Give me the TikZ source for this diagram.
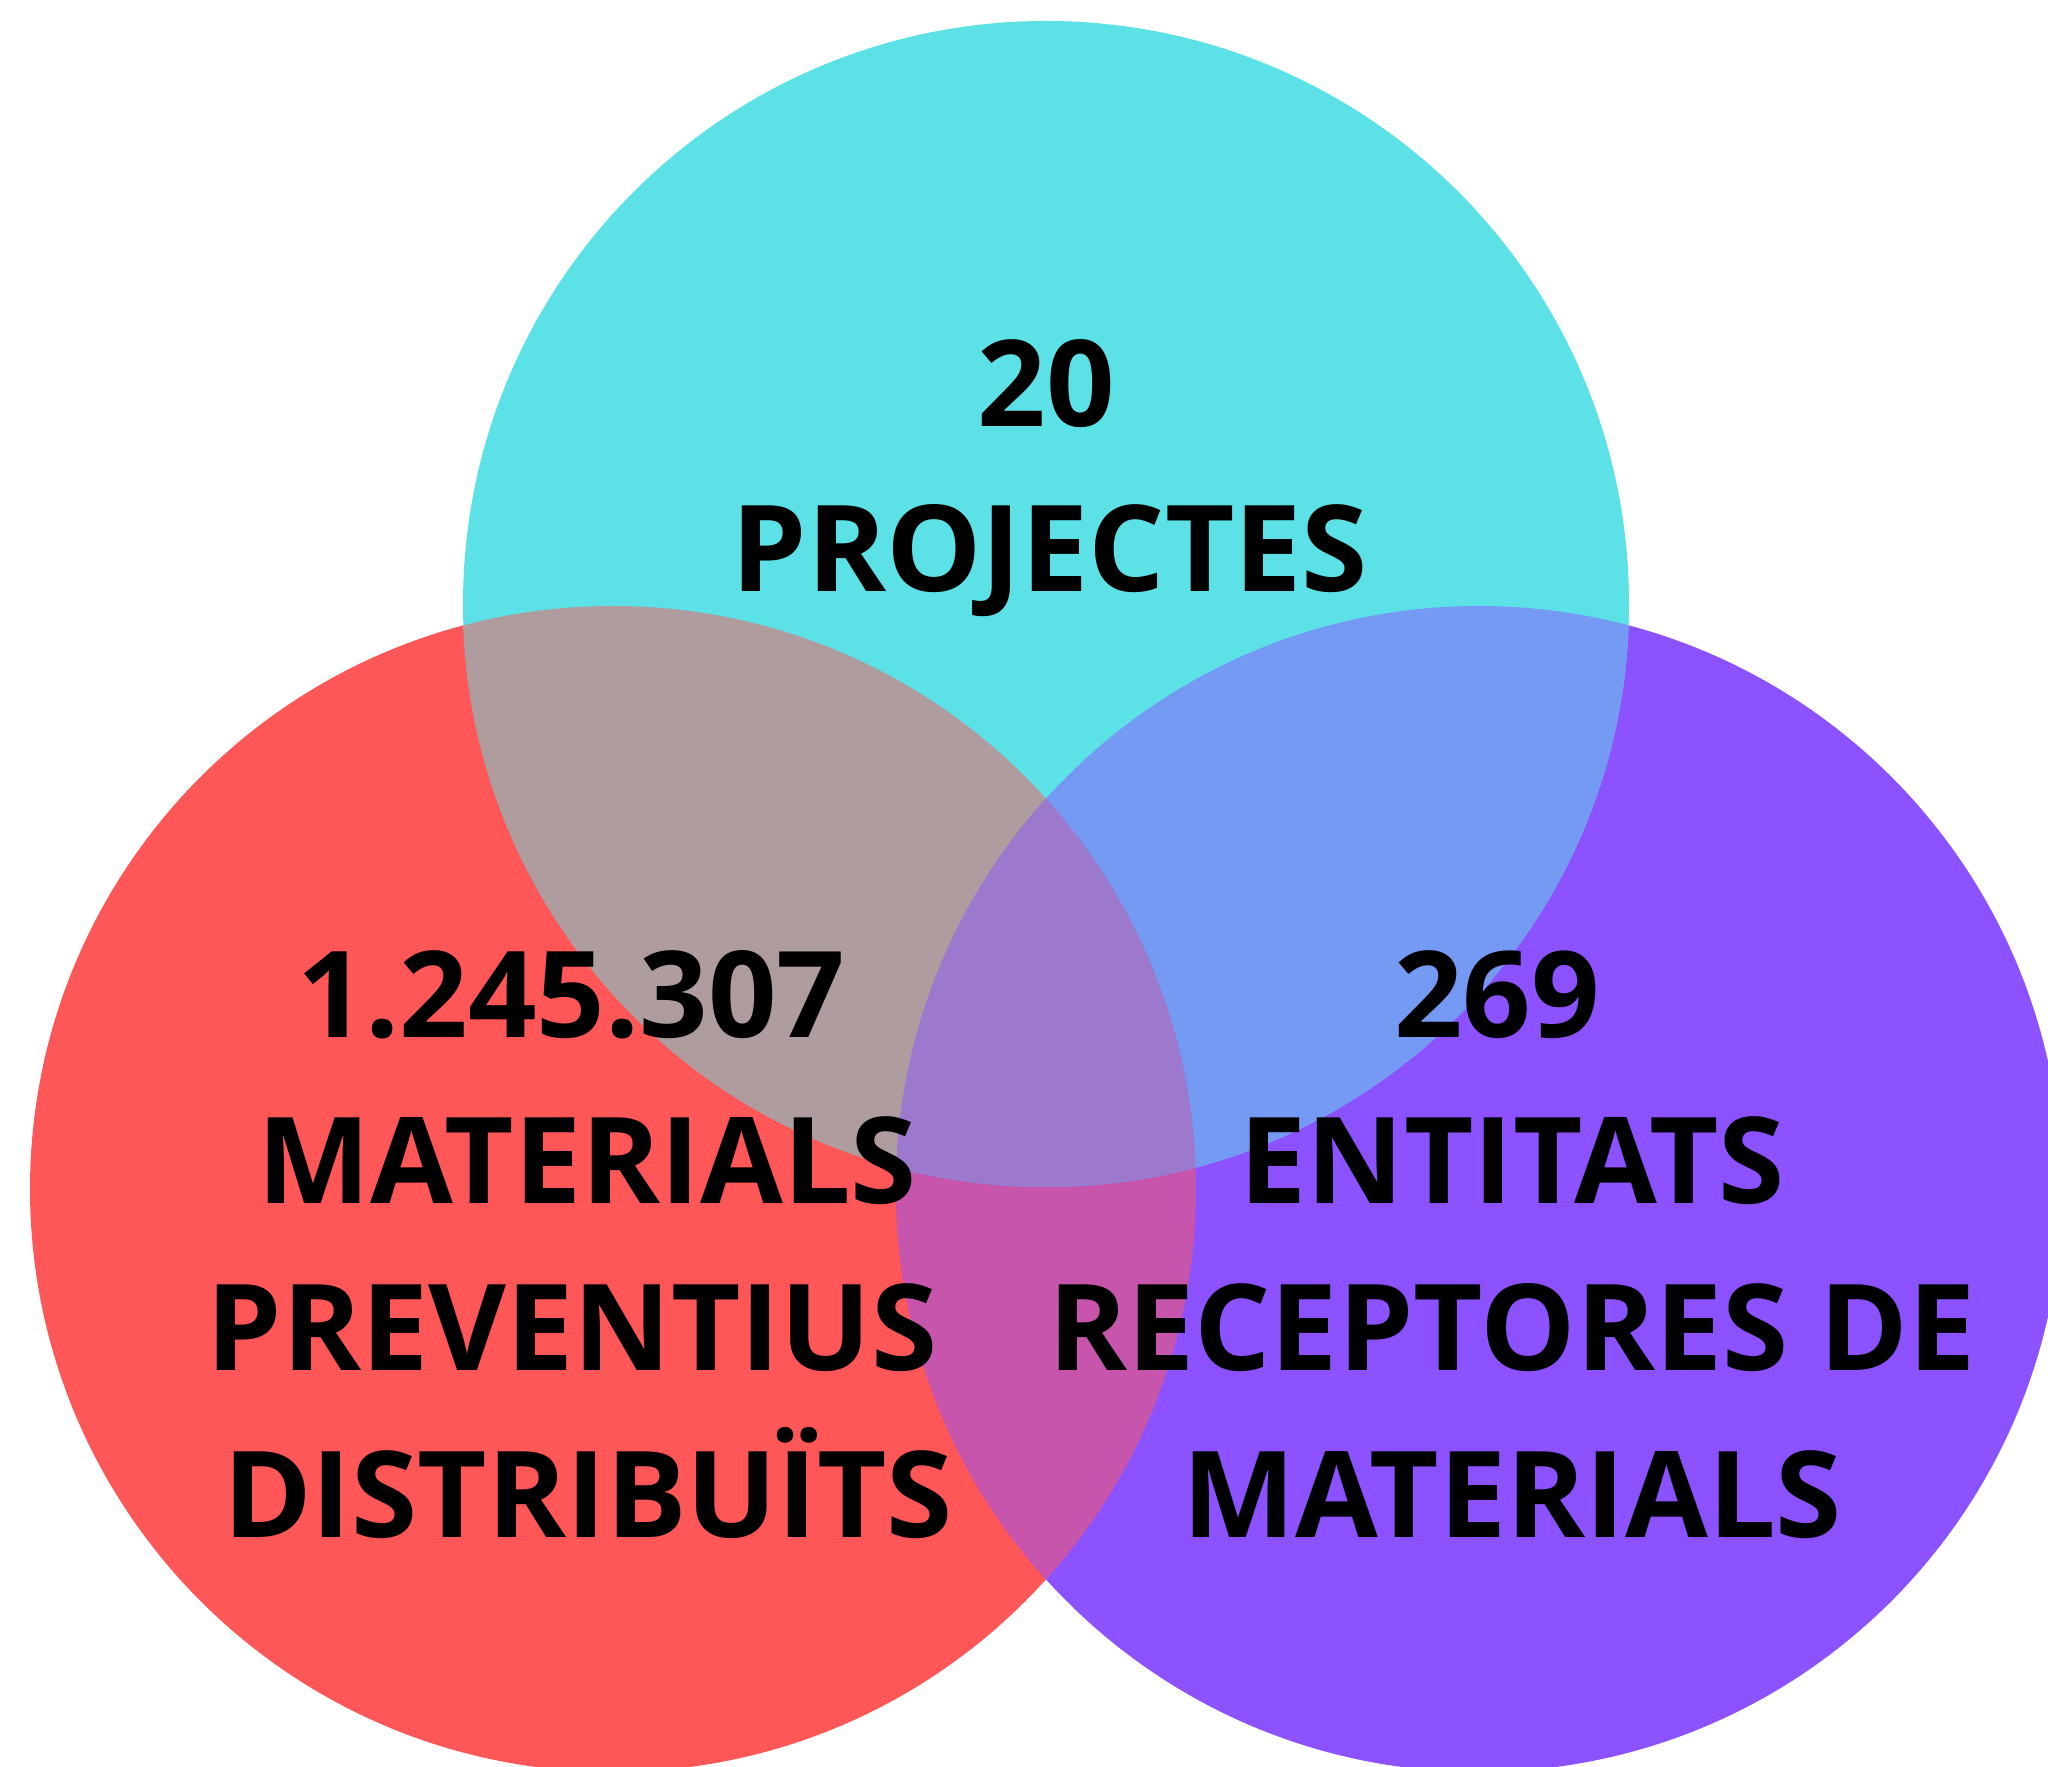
\documentclass[tikz,border=0pt]{standalone}
\usepackage{fontspec}
\setmainfont{Open Sans}
\usepackage{tikz}
\usetikzlibrary{positioning}

\definecolor{cyanset}{HTML}{5CE1E6}
\definecolor{redset}{HTML}{FF5757}
\definecolor{purpleset}{HTML}{8C52FF}
\definecolor{redcyan}{RGB}{174,156,158}
\definecolor{cyanpurple}{RGB}{116,154,243}
\definecolor{redpurple}{RGB}{198,85,171}
\definecolor{allthree}{RGB}{156,121,204}

\begin{document}
\begin{tikzpicture}
      [
        x=0.5pt, y=0.5pt,
        vlabel/.style={anchor=base, font=\fontsize{60}{72}\selectfont\bfseries, inner sep=0pt}
      ]
      \useasboundingbox (0,0) rectangle (2048,1766);
      \clip (0,0) rectangle (2048,1766);
      % the three sets
      \coordinate (ctop) at (1046,1162);
      \coordinate (cleft) at (613,577);
      \coordinate (cright) at (1479,577);
      \fill [redset] (cleft) circle (583);
      \fill [purpleset] (cright) circle (583);
      \fill [cyanset] (ctop) circle (583);
      % overlaps
      \begin{scope}
        \clip (cleft) circle (583);
        \fill [redcyan] (ctop) circle (583);
        \fill [redpurple] (cright) circle (583);
        \clip (ctop) circle (583);
        \fill [allthree] (cright) circle (583);
      \end{scope}
      \begin{scope}
        \clip (ctop) circle (583);
        \fill [cyanpurple] (cright) circle (583);
        \clip (cleft) circle (583);
        \fill [allthree] (cright) circle (583);
      \end{scope}
      % labels
      \node [vlabel] (n20) at (1046,1339) {20};
      \node [vlabel] (projectes) at (1050,1174) {PROJECTES};
      \node [vlabel] (n1245307) at (571,728) {1.245.307};
      \node [vlabel] (materials1) at (587,562) {MATERIALS};
      \node [vlabel] (preventius) at (572,395) {PREVENTIUS};
      \node [vlabel] (distribuits) at (588,229) {DISTRIBUÏTS};
      \node [vlabel] (n269) at (1497,728) {269};
      \node [vlabel] (entitats) at (1512,562) {ENTITATS};
      \node [vlabel] (receptores) at (1512,395) {RECEPTORES DE};
      \node [vlabel] (materials2) at (1512,229) {MATERIALS};
    \end{tikzpicture}
\end{document}
